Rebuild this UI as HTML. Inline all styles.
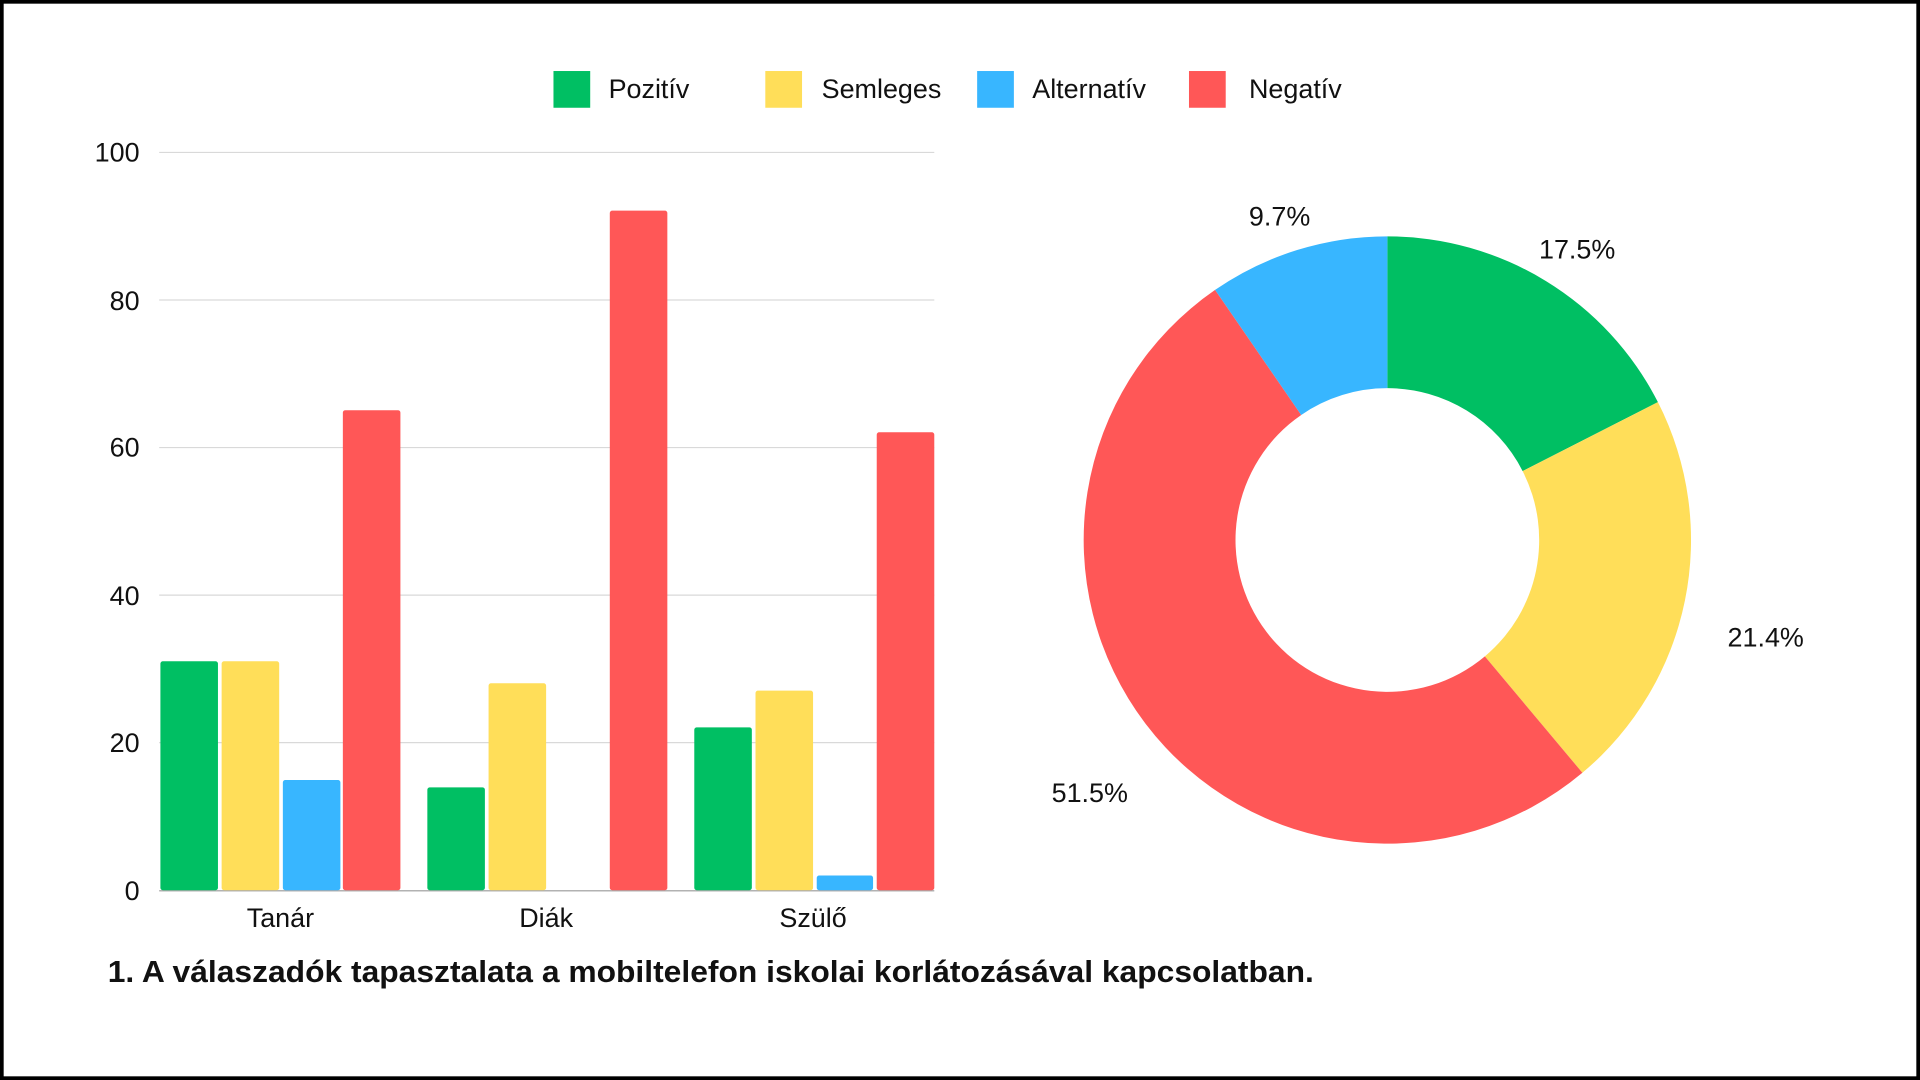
<!DOCTYPE html>
<html><head><meta charset="utf-8"><style>
html,body{margin:0;padding:0;width:100%;height:100%;overflow:hidden;background:#fff}
svg{display:block;width:100vw;height:100vh}
text{font-family:"Liberation Sans",sans-serif;fill:#111}
</style></head><body>
<svg viewBox="0 0 1568 882" preserveAspectRatio="none" xmlns="http://www.w3.org/2000/svg">
<rect x="1.5" y="1.5" width="1565" height="879" fill="#fff" stroke="#000" stroke-width="3"/>
<rect x="452" y="58" width="30" height="30" fill="#00bf63"/><text x="497" y="80" font-size="22">Pozitív</text>
<rect x="625" y="58" width="30" height="30" fill="#ffde59"/><text x="671" y="80" font-size="22">Semleges</text>
<rect x="798" y="58" width="30" height="30" fill="#38b6ff"/><text x="843" y="80" font-size="22">Alternatív</text>
<rect x="971" y="58" width="30" height="30" fill="#ff5757"/><text x="1020" y="80" font-size="22">Negatív</text>
<g stroke="#d9d9d9" stroke-width="1">
<line x1="130" x2="763" y1="124.5" y2="124.5"/>
<line x1="130" x2="763" y1="245" y2="245"/>
<line x1="130" x2="763" y1="365.5" y2="365.5"/>
<line x1="130" x2="763" y1="486" y2="486"/>
<line x1="130" x2="763" y1="606.5" y2="606.5"/>
</g>
<line x1="130" x2="763" y1="727.5" y2="727.5" stroke="#999" stroke-width="1"/>
<g font-size="22" text-anchor="end">
<text x="114" y="132">100</text><text x="114" y="253">80</text><text x="114" y="373">60</text>
<text x="114" y="494">40</text><text x="114" y="614">20</text><text x="114" y="735">0</text>
</g>
<g>
<rect x="131" y="540" width="47" height="187" rx="2" fill="#00bf63"/>
<rect x="181" y="540" width="47" height="187" rx="2" fill="#ffde59"/>
<rect x="231" y="637" width="47" height="90" rx="2" fill="#38b6ff"/>
<rect x="280" y="335" width="47" height="392" rx="2" fill="#ff5757"/>
<rect x="349" y="643" width="47" height="84" rx="2" fill="#00bf63"/>
<rect x="399" y="558" width="47" height="169" rx="2" fill="#ffde59"/>
<rect x="498" y="172" width="47" height="555" rx="2" fill="#ff5757"/>
<rect x="567" y="594" width="47" height="133" rx="2" fill="#00bf63"/>
<rect x="617" y="564" width="47" height="163" rx="2" fill="#ffde59"/>
<rect x="667" y="715" width="46" height="12" rx="2" fill="#38b6ff"/>
<rect x="716" y="353" width="47" height="374" rx="2" fill="#ff5757"/>
</g>
<g font-size="22" text-anchor="middle">
<text x="229" y="757">Tanár</text><text x="446" y="757">Diák</text><text x="664" y="757">Szülő</text>
</g>
<text x="88" y="802" font-size="25" font-weight="bold" textLength="985" lengthAdjust="spacingAndGlyphs">1. A válaszadók tapasztalata a mobiltelefon iskolai korlátozásával kapcsolatban.</text>
<g id="donut"></g>
<g font-size="22" text-anchor="middle">
<text x="1288" y="211">17.5%</text>
<text x="1442" y="528">21.4%</text>
<text x="890" y="655">51.5%</text>
<text x="1045" y="184">9.7%</text>
</g>
<script>
(function(){
var cx=1133,cy=441,R=248,r=124;
var d=[[17.5,"#00bf63"],[21.4,"#ffde59"],[51.5,"#ff5757"],[9.6,"#38b6ff"]];
var tot=100,a=0,g=document.getElementById("donut"),ns="http://www.w3.org/2000/svg";
function p(rad,ang){return [cx+rad*Math.sin(ang),cy-rad*Math.cos(ang)];}
d.forEach(function(s){
var a0=a/tot*2*Math.PI;a+=s[0];var a1=a/tot*2*Math.PI;
var L=(a1-a0)>Math.PI?1:0;
var o0=p(R,a0),o1=p(R,a1),i1=p(r,a1),i0=p(r,a0);
var path=document.createElementNS(ns,"path");
path.setAttribute("d","M"+o0+" A"+R+" "+R+" 0 "+L+" 1 "+o1+" L"+i1+" A"+r+" "+r+" 0 "+L+" 0 "+i0+" Z");
path.setAttribute("fill",s[1]);g.appendChild(path);
});
})();
</script>
</svg>
</body></html>
